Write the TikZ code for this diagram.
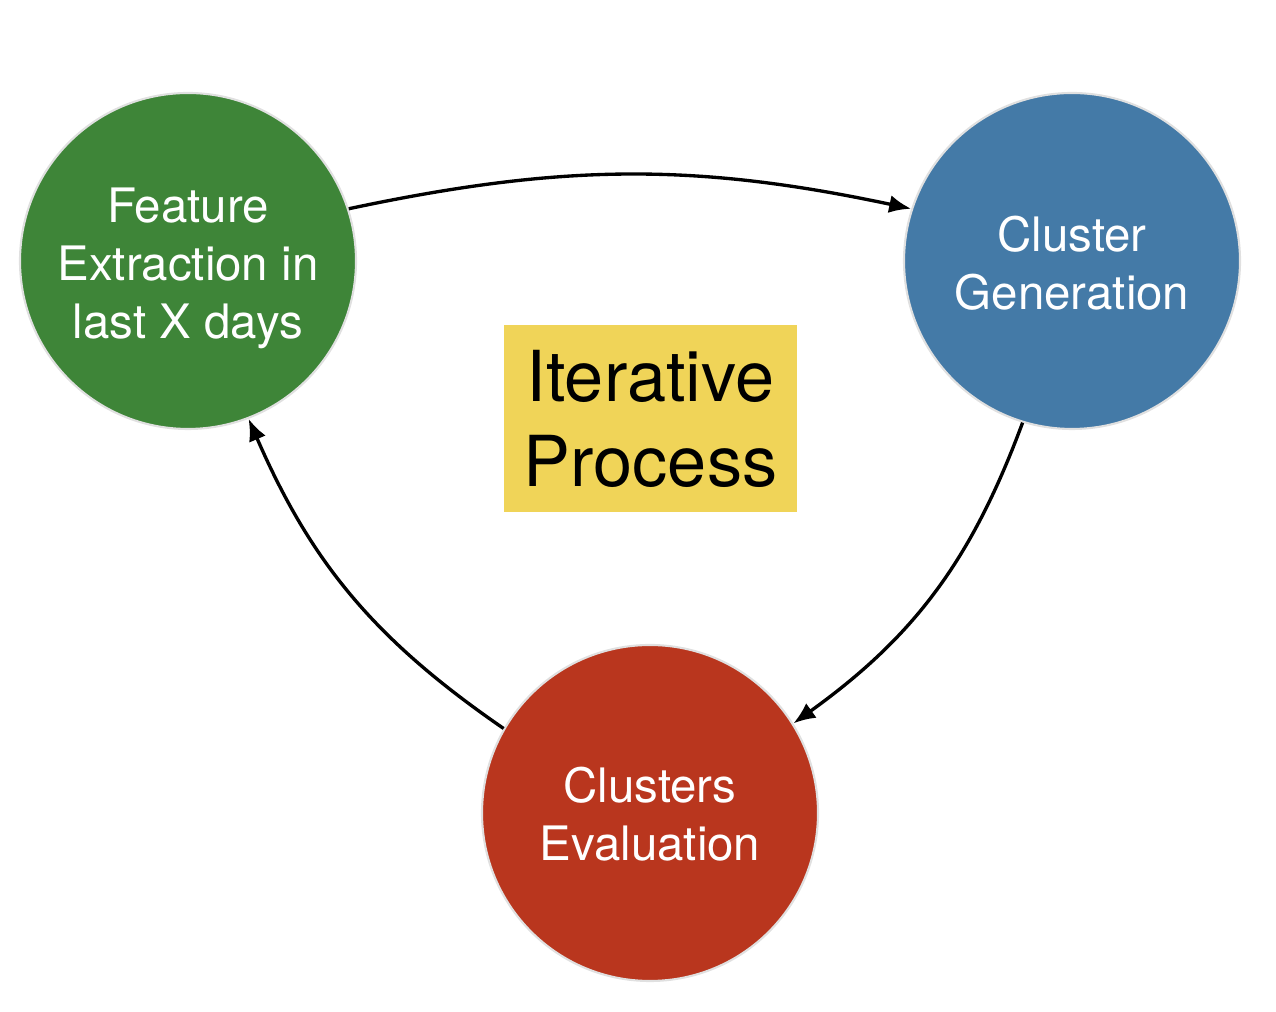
\documentclass[tikz,border=0pt]{standalone}
\usepackage{fontspec}
\setmainfont{TeX Gyre Heros}
\usetikzlibrary{arrows.meta}
\definecolor{featgreen}{RGB}{62,133,56}
\definecolor{genblue}{RGB}{68,122,167}
\definecolor{evalred}{RGB}{185,54,30}
\definecolor{iteryellow}{RGB}{240,212,88}
\begin{document}
\begin{tikzpicture}[scale=1,auto=center,
		stage/.style={circle,minimum size=6.72cm,inner sep=0pt,draw=black!12,line width=1.2pt,
			text=white,align=center,font=\fontsize{27}{33}\selectfont},
		flow/.style={line width=1.9pt,-{Latex[length=0.44cm,width=0.36cm]}}]
			\useasboundingbox (0,0) rectangle (25.52,20.24);
			\node[stage,fill=featgreen] (feat) at (3.76,15.02) {};
			\node[stage,fill=genblue] (gen) at (21.44,15.02) {};
			\node[stage,fill=evalred] (eval) at (13.0,3.98) {};
			\node[text=white,align=center,font=\fontsize{27}{33}\selectfont] (feattext) at (3.76,14.88) {Feature\\Extraction in\\last X days};
			\node[text=white,align=center,font=\fontsize{27}{33}\selectfont] (gentext) at (21.44,14.98) {Cluster\\Generation};
			\node[text=white,align=center,font=\fontsize{27}{33}\selectfont] (evaltext) at (13.0,3.96) {Clusters\\Evaluation};
			\node[fill=iteryellow,minimum width=5.86cm,minimum height=3.74cm,align=center,
				font=\fontsize{40}{48.4}\selectfont] (iter) at (13.01,11.87) {Iterative\\Process};
			\draw[flow] (feat.18) to[bend left=12] (gen.162);
			\draw[flow] (gen.253) to[bend left=17] (eval.32);
			\draw[flow] (eval.150) to[bend left=16] (feat.291);
		\end{tikzpicture}
\end{document}
